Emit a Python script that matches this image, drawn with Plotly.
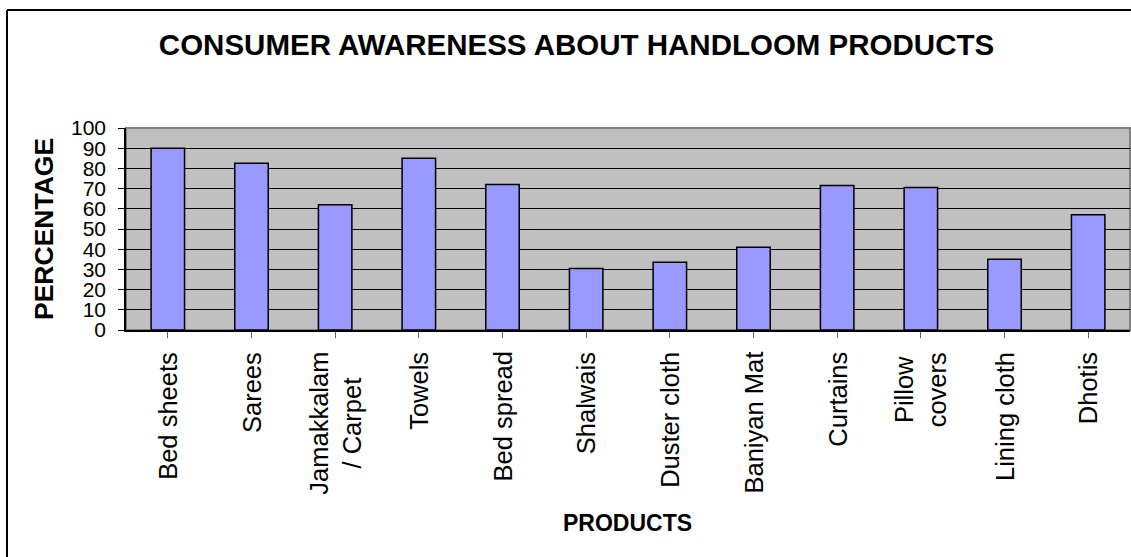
import plotly.graph_objects as go

categories = ["Bed sheets", "Sarees", "Jamakkalam<br>/ Carpet", "Towels", "Bed spread",
              "Shalwais", "Duster cloth", "Baniyan Mat", "Curtains", "Pillow<br>covers",
              "Lining cloth", "Dhotis"]
values = [90, 82.5, 62, 85, 72, 30.5, 33.5, 41, 71.5, 70.5, 35, 57]
y_ticks = [0, 10, 20, 30, 40, 50, 60, 70, 80, 90, 100]

W, H = 1131, 557
L, R, T, B = 126, 1, 128, 227
pw = W - L - R
ph = H - T - B

def px_x(p):
    return (p - L) / pw

def px_y(q):
    return (H - B - q) / ph

FONT = "Liberation Sans, Arial, sans-serif"

fig = go.Figure()
fig.add_trace(go.Bar(
    x=list(range(len(categories))), y=values,
    marker=dict(color="#9999FF", line=dict(color="black", width=1.5)),
    hoverinfo="skip",
))

annotations = []
for i, c in enumerate(categories):
    annotations.append(dict(
        x=i, xref="x", y=0, yref="paper", yanchor="top", xanchor="center",
        yshift=-20, text=c, textangle=-90, showarrow=False, align="center",
        font=dict(family=FONT, size=25.5, color="black"),
    ))
annotations.append(dict(
    x=px_x(44), xref="paper", y=px_y(229), yref="paper",
    text="<b>PERCENTAGE</b>", textangle=-90, showarrow=False,
    xanchor="center", yanchor="middle",
    font=dict(family=FONT, size=26.5, color="black"),
))
annotations.append(dict(
    x=px_x(627), xref="paper", y=px_y(523), yref="paper",
    text="<b>PRODUCTS</b>", showarrow=False,
    xanchor="center", yanchor="middle",
    font=dict(family=FONT, size=23, color="black"),
))

shapes = [
    dict(type="rect", xref="paper", yref="paper", x0=0, x1=1, y0=0, y1=1,
         line=dict(color="#808080", width=2), layer="below"),
    dict(type="line", xref="paper", yref="paper", x0=px_x(7), x1=px_x(1140),
         y0=px_y(10), y1=px_y(10), line=dict(color="black", width=2)),
    dict(type="line", xref="paper", yref="paper", x0=px_x(7), x1=px_x(7),
         y0=px_y(10), y1=px_y(570), line=dict(color="black", width=2)),
]

fig.update_layout(
    width=W, height=H,
    margin=dict(l=L, r=R, t=T, b=B, pad=0),
    paper_bgcolor="white", plot_bgcolor="#C0C0C0",
    showlegend=False,
    bargap=0.6,
    title=dict(text="<b>CONSUMER AWARENESS ABOUT HANDLOOM PRODUCTS</b>",
               x=576.5 / W, xanchor="center", y=1 - 45 / H, yanchor="middle",
               font=dict(family=FONT, size=29.5, color="black")),
    xaxis=dict(range=[-0.5, len(categories) - 0.5], tickmode="array",
               tickvals=list(range(len(categories))), ticktext=[""] * len(categories),
               tickson="boundaries", ticks="outside", ticklen=6, tickcolor="#606060",
               showgrid=False, showline=True, linecolor="black", linewidth=1.5,
               zeroline=False, fixedrange=True),
    yaxis=dict(range=[0, 100], tickmode="array", tickvals=y_ticks,
               ticktext=[str(v) for v in y_ticks],
               ticks="outside", ticklen=6, tickcolor="black",
               showgrid=True, gridcolor="black", gridwidth=1,
               showline=True, linecolor="black", linewidth=1.5,
               zeroline=False, ticklabelstandoff=8,
               tickfont=dict(family=FONT, size=21, color="black"), fixedrange=True),
    annotations=annotations,
    shapes=shapes,
)

fig.write_html("out.html")
